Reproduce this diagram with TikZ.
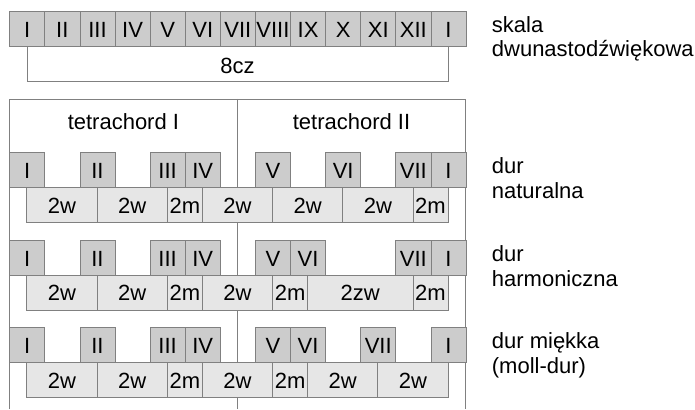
\documentclass[tikz,border=0pt]{standalone}
\usepackage{fontspec}
\setmainfont{Liberation Sans}
\definecolor{edgegray}{HTML}{808080}
\definecolor{degfill}{HTML}{CCCCCC}
\definecolor{intfill}{HTML}{E6E6E6}
% step width of one semitone and left edge of the scale
\def\s{35.1}
\def\xo{9.3}
% degree box: name, semitone index, top y, label
\newcommand\degbox[4]{%
  \node[degbox, anchor=north west] (#1) at ({\xo+#2*\s},#3) {#4};}
% interval box between two degree centres: name, from, to, top y, label
\newcommand\intbox[5]{%
  \node[intbox, minimum width={(#3-#2)*\s pt}, anchor=north]
    (#1) at ({\xo+(#2+#3)/2*\s+\s/2},#4) {#5};}
\begin{document}
\begin{tikzpicture}[x=1pt,y=-1pt,
  every node/.style={font=\fontsize{22}{25}\selectfont},
  degbox/.style={draw=edgegray, fill=degfill, line width=0.8pt,
    minimum width=\s pt, minimum height=35pt, inner sep=0pt, text height=17.5pt},
  intbox/.style={draw=edgegray, fill=intfill, line width=0.8pt,
    minimum height=35pt, inner sep=0pt, text height=17pt},
  frameline/.style={draw=edgegray, line width=0.8pt},
  lab/.style={anchor=base west, inner sep=0pt}]
\useasboundingbox (0,0) rectangle (695,409);

% twelve-tone scale
\foreach \k/\t in {0/I,1/II,2/III,3/IV,4/V,5/VI,6/VII,7/VIII,8/IX,9/X,10/XI,11/XII,12/I}
  {\degbox{t\k}{\k}{11}{\t}}
\draw[frameline] (t0.south) -- ++(0,35) -| (t12.south);
\node[anchor=base] (oct) at (237.5,73.3) {8cz};

% tetrachord frame
\draw[frameline] (\xo,409) |- ({\xo+13*\s},99) -- ({\xo+13*\s},409);
\draw[frameline] ({\xo+6.5*\s},99) -- ({\xo+6.5*\s},409);
\node[anchor=base] (tetA) at (123.4,129) {tetrachord I};
\node[anchor=base] (tetB) at (351.5,129) {tetrachord II};

% dur naturalna
\foreach \k/\t in {0/I,2/II,4/III,5/IV,7/V,9/VI,11/VII,12/I}
  {\degbox{n\k}{\k}{151.7}{\t}}
\foreach \a/\b/\t in {0/2/2w,2/4/2w,4/5/2m,5/7/2w,7/9/2w,9/11/2w,11/12/2m}
  {\intbox{ni\a}{\a}{\b}{186.7}{\t}}

% dur harmoniczna
\foreach \k/\t in {0/I,2/II,4/III,5/IV,7/V,8/VI,11/VII,12/I}
  {\degbox{h\k}{\k}{239.5}{\t}}
\foreach \a/\b/\t in {0/2/2w,2/4/2w,4/5/2m,5/7/2w,7/8/2m,8/11/2zw,11/12/2m}
  {\intbox{hi\a}{\a}{\b}{274.5}{\t}}

% dur miekka
\foreach \k/\t in {0/I,2/II,4/III,5/IV,7/V,8/VI,10/VII,12/I}
  {\degbox{m\k}{\k}{327.3}{\t}}
\foreach \a/\b/\t in {0/2/2w,2/4/2w,4/5/2m,5/7/2w,7/8/2m,8/10/2w,10/12/2w}
  {\intbox{mi\a}{\a}{\b}{362.3}{\t}}

% scale names
\node[lab] (skalaA) at (491.7,32.7) {skala};
\node[lab] (skalaB) at (491.7,56.2) {dwunastodźwiękowa};
\node[lab] (natA) at (491.7,173.3) {dur};
\node[lab] (natB) at (491.7,198.3) {naturalna};
\node[lab] (harA) at (491.7,261.3) {dur};
\node[lab] (harB) at (491.7,286.3) {harmoniczna};
\node[lab] (mieA) at (491.7,348.3) {dur miękka};
\node[lab] (mieB) at (491.7,373.3) {(moll-dur)};
\end{tikzpicture}
\end{document}
